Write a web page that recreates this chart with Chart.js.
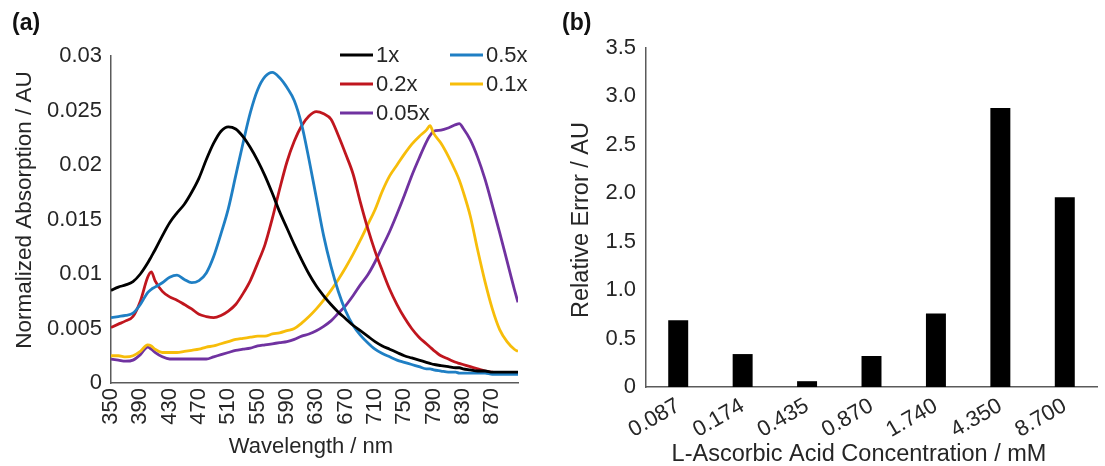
<!DOCTYPE html>
<html>
<head>
<meta charset="utf-8">
<script src="https://cdn.jsdelivr.net/npm/chart.js@4.4.1/dist/chart.umd.min.js"></script>
<style>
	html, body { margin: 0; padding: 0; background: #fff; overflow: hidden; }
	#wrap { position: relative; width: 1105px; height: 466px; }
	.panel { position: absolute; top: 0; }
	.tag { position: absolute; font: bold 23px "Liberation Sans", Arial, sans-serif; color: #111; }
</style>
</head>
<body>
<div id="wrap">
	<canvas id="chartA" class="panel" width="560" height="466" style="left:0"></canvas>
	<canvas id="chartB" class="panel" width="545" height="466" style="left:560px"></canvas>
	<div class="tag" style="left:12px;top:9px">(a)</div>
	<div class="tag" style="left:562px;top:9px">(b)</div>
</div>
<script>
// (a) absorption spectra
const wavelengths = [350, 360, 370, 380, 390, 400, 405, 410, 420, 430, 440, 450, 460, 470, 480, 490, 500, 510, 520, 530,
	540, 550, 560, 570, 580, 590, 600, 610, 620, 630, 640, 650, 660, 670, 680, 690, 700, 710, 720, 730,
	740, 750, 760, 770, 780, 785, 790, 800, 810, 820, 825, 830, 840, 850, 860, 870, 880, 890, 900, 905];

const abs1x = [.0085, .0088, .0090, .0093, .0100, .0110, .0116, .0122, .0135, .0147, .0156, .0164, .0175, .0188, .0205, .0220, .0231, .0235, .0233, .0226,
	.0216, .0204, .0190, .0174, .0157, .0142, .0127, .0113, .0100, .0089, .0080, .0072, .0065, .0059, .0053, .0048, .0043, .0038, .0034, .0031,
	.0028, .0025, .0023, .0021, .0019, .0018, .0017, .0016, .0015, .0014, .0014, .0013, .0012, .0011, .0011, .0010, .0010, .0010, .0010, .0010];

const abs05x = [.0060, .0061, .0062, .0064, .0072, .0083, .0086, .0088, .0092, .0097, .0099, .0095, .0092, .0094, .0101, .0116, .0137, .0160, .0190, .0220,
	.0248, .0269, .0281, .0285, .0280, .0271, .0259, .0237, .0205, .0170, .0135, .0107, .0084, .0066, .0053, .0044, .0037, .0031, .0027, .0024,
	.0021, .0019, .0017, .0015, .0013, .0013, .0012, .0011, .0010, .0010, .0009, .0009, .0009, .0009, .0009, .0008, .0008, .0008, .0008, .0008];

const abs02x = [.0051, .0054, .0057, .0061, .0075, .0097, .0102, .0094, .0084, .0079, .0076, .0072, .0068, .0063, .0061, .0060, .0062, .0066, .0072, .0082,
	.0094, .0110, .0127, .0151, .0178, .0203, .0222, .0236, .0245, .0249, .0247, .0242, .0227, .0210, .0192, .0166, .0142, .0121, .0103, .0086,
	.0072, .0060, .0050, .0042, .0036, .0033, .0030, .0025, .0022, .0019, .0018, .0017, .0015, .0013, .0011, .0010, .0009, .0009, .0009, .0009];

const abs01x = [.0025, .0025, .0024, .0025, .0029, .0035, .0034, .0031, .0028, .0028, .0028, .0029, .0030, .0031, .0033, .0034, .0036, .0038, .0040, .0041,
	.0042, .0043, .0043, .0045, .0046, .0048, .0050, .0055, .0061, .0068, .0076, .0085, .0095, .0106, .0118, .0131, .0145, .0159, .0176, .0190,
	.0200, .0210, .0219, .0226, .0232, .0236, .0229, .0220, .0208, .0194, .0186, .0176, .0153, .0122, .0093, .0068, .0049, .0038, .0031, .0029];

const abs005x = [.0022, .0021, .0020, .0021, .0026, .0033, .0031, .0028, .0024, .0022, .0022, .0022, .0022, .0022, .0022, .0024, .0026, .0028, .0030, .0031,
	.0032, .0034, .0035, .0036, .0037, .0038, .0040, .0043, .0045, .0048, .0052, .0057, .0064, .0071, .0080, .0090, .0099, .0111, .0125, .0139,
	.0155, .0172, .0190, .0206, .0221, .0227, .0231, .0232, .0234, .0237, .0238, .0234, .0223, .0207, .0187, .0163, .0138, .0112, .0086, .0074];

const seriesNames = ['1x', '0.5x', '0.2x', '0.1x', '0.05x'];
const seriesColors = ['#000000', '#1f7fc4', '#c0161e', '#f7bd0a', '#7032a0'];
const seriesValues = [abs1x, abs05x, abs02x, abs01x, abs005x];
const xTicksA = [350, 390, 430, 470, 510, 550, 590, 630, 670, 710, 750, 790, 830, 870];

// (b) relative error
const concentrations = ['0.087', '0.174', '0.435', '0.870', '1.740', '4.350', '8.700'];
const relError = [0.69, 0.34, 0.06, 0.32, 0.76, 2.88, 1.96];

const FONT = '"Liberation Sans", Arial, sans-serif';
const TXT = '#262626';
const AXIS = '#5a5a5a';
const tickFont = { family: FONT, size: 22 };

// legend in two columns inside the plot, like the original
const legendGrid = {
	id: 'legendGrid',
	afterDatasetsDraw(chart, args, opts) {
		if (!opts || !opts.x) return;
		const ctx = chart.ctx;
		ctx.save();
		ctx.font = '22px ' + FONT;
		ctx.textBaseline = 'middle';
		chart.data.datasets.forEach((ds, i) => {
			const x = opts.x[i % 2], y = opts.y[Math.floor(i / 2)];
			ctx.strokeStyle = ds.borderColor;
			ctx.lineWidth = 3;
			ctx.beginPath(); ctx.moveTo(x, y); ctx.lineTo(x + opts.lineLen, y); ctx.stroke();
			ctx.fillStyle = TXT;
			ctx.fillText(ds.label, x + opts.lineLen + 3, y + 1);
		});
		ctx.restore();
	}
};

// axis titles, placed where the original has them (not always centred on the plot)
const axisCaptions = {
	id: 'axisCaptions',
	afterDraw(chart, args, opts) {
		if (!opts || !opts.items) return;
		const ctx = chart.ctx;
		ctx.save();
		ctx.fillStyle = TXT;
		ctx.textAlign = 'center';
		ctx.textBaseline = 'middle';
		opts.items.forEach(c => {
			ctx.font = c.size + 'px ' + FONT;
			ctx.save();
			ctx.translate(c.x, c.y);
			if (c.vertical) ctx.rotate(-Math.PI / 2);
			ctx.fillText(c.text, 0, 0);
			ctx.restore();
		});
		ctx.restore();
	}
};

new Chart(document.getElementById('chartA'), {
	type: 'line',
	data: {
		datasets: seriesNames.map((name, i) => ({
			label: name,
			data: wavelengths.map((w, j) => ({ x: w, y: seriesValues[i][j] })),
			borderColor: seriesColors[i],
			backgroundColor: seriesColors[i],
			borderWidth: 2.8,
			pointRadius: 0,
			cubicInterpolationMode: 'monotone',
			fill: false
		}))
	},
	options: {
		responsive: false,
		animation: false,
		devicePixelRatio: 1,
		layout: { padding: { top: 56, right: 42, bottom: 6, left: 0 } },
		plugins: {
			legend: { display: false },
			tooltip: { enabled: false },
			legendGrid: { x: [340, 450], y: [55, 84, 113], lineLen: 33 },
			axisCaptions: { items: [
				{ text: 'Wavelength / nm', x: 311, y: 447, size: 22 },
				{ text: 'Normalized Absorption / AU', x: 25, y: 210, size: 22.5, vertical: true }
			] }
		},
		scales: {
			x: {
				type: 'linear', min: 350, max: 905,
				afterBuildTicks: s => { s.ticks = xTicksA.map(v => ({ value: v })); },
				afterFit: s => { s.height = 77; },
				grid: { display: false, drawTicks: false },
				border: { color: AXIS, width: 1.5 },
				ticks: { autoSkip: false, minRotation: 90, maxRotation: 90, padding: 5, font: tickFont, color: TXT }
			},
			y: {
				min: 0, max: 0.03,
				afterFit: s => { s.width = 111; },
				grid: { display: false, drawTicks: false },
				border: { color: AXIS, width: 1.5 },
				ticks: { stepSize: 0.005, padding: 9, font: tickFont, color: TXT, callback: v => String(parseFloat(v.toFixed(3))) }
			}
		}
	},
	plugins: [legendGrid, axisCaptions]
});

new Chart(document.getElementById('chartB'), {
	type: 'bar',
	data: {
		labels: concentrations,
		datasets: [{ label: 'Relative Error', data: relError, backgroundColor: '#000', borderWidth: 0,
			categoryPercentage: 1, barPercentage: 0.31 }]
	},
	options: {
		responsive: false,
		animation: false,
		devicePixelRatio: 1,
		layout: { padding: { top: 48, right: 8, bottom: 0, left: 0 } },
		plugins: {
			legend: { display: false },
			tooltip: { enabled: false },
			axisCaptions: { items: [
				{ text: 'L-Ascorbic Acid Concentration / mM', x: 299, y: 455, size: 23.5 },
				{ text: 'Relative Error / AU', x: 22, y: 220, size: 23.5, vertical: true }
			] }
		},
		scales: {
			x: {
				afterFit: s => { s.height = 79; },
				grid: { display: false, drawTicks: false },
				border: { color: AXIS, width: 1.5 },
				ticks: { autoSkip: false, minRotation: 30, maxRotation: 30, padding: 6, font: tickFont, color: TXT }
			},
			y: {
				min: 0, max: 3.5,
				afterFit: s => { s.width = 86; },
				grid: { display: false, drawTicks: false },
				border: { color: AXIS, width: 1.5 },
				ticks: { stepSize: 0.5, padding: 10, font: tickFont, color: TXT, callback: v => v === 0 ? '0' : v.toFixed(1) }
			}
		}
	},
	plugins: [axisCaptions]
});
</script>
</body>
</html>
